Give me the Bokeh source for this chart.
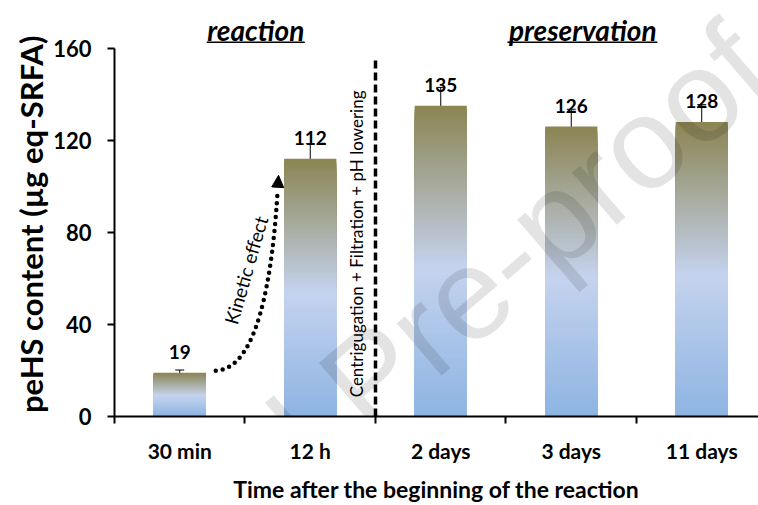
import numpy as np
from bokeh.plotting import figure
from bokeh.layouts import row
from bokeh.models import (ColumnDataSource, FixedTicker, Whisker, TeeHead, Label,
                          Arrow, NormalHead, Range1d)
from bokeh.core.properties import value
from bokeh.embed import file_html
from bokeh.resources import INLINE

# ---------------- data ----------------
categories = ["30 min", "12 h", "2 days", "3 days", "11 days"]
content = [19, 112, 135, 126, 128]
error = [1.2, 6.5, 8.0, 7.5, 7.5]
y_ticks = [0, 40, 80, 120, 160]
phases = ["reaction", "preservation"]
treatment = "Centrigugation + Filtration + pH lowering"
arrow_text = "Kinetic effect"
y_title = "peHS content (\u00b5g eq-SRFA)"
x_title = "Time after the beginning of the reaction"

FONT = "Lato"
BAR_W = 0.4
TITLE_W = 50
Y_END = 180.76

# ---------------- narrow strip holding the y-axis title ----------------
t = figure(width=TITLE_W, height=505, output_backend="svg", toolbar_location=None,
           x_range=Range1d(0, TITLE_W), y_range=Range1d(0, Y_END),
           x_axis_location=None, y_axis_location=None,
           min_border=0, min_border_left=0, min_border_right=0,
           min_border_top=0, min_border_bottom=87)
t.outline_line_color = None
t.xgrid.visible = False
t.ygrid.visible = False
t.text(x=[30], y=[83.5], text=[y_title], angle=np.pi / 2, text_align="center",
       text_baseline="middle", text_font=value(FONT), text_font_style="bold",
       text_font_size="31px", text_color="black")

# ---------------- main plot ----------------
p = figure(width=758 - TITLE_W, height=505, output_backend="svg", toolbar_location=None,
           x_range=Range1d(-0.5, 4.435), y_range=Range1d(0, Y_END),
           min_border_left=114 - TITLE_W, min_border_right=0, min_border_top=0,
           min_border_bottom=87)
p.outline_line_color = None
p.background_fill_color = "white"
p.border_fill_color = "white"
p.xgrid.visible = False
p.ygrid.visible = False

# gradient bars (stacked from top colour down)
stops = [0.0, 0.48, 1.0]
cols = np.array([[141, 180, 226], [197, 211, 238], [139, 132, 82]], dtype=float)
N = 90
L, R, B, T, C = [], [], [], [], []
for i, v in enumerate(content):
    for k in range(N - 1, -1, -1):
        f = (k + 0.5) / N
        rgb = [np.interp(f, stops, cols[:, j]) for j in range(3)]
        L.append(i - BAR_W / 2)
        R.append(i + BAR_W / 2)
        B.append(0)
        T.append(v * (k + 1) / N)
        C.append("#%02x%02x%02x" % tuple(int(round(c)) for c in rgb))
p.quad(left=L, right=R, bottom=B, top=T, fill_color=C, line_color=None)

# error bars
xs = list(range(len(categories)))
src = ColumnDataSource(dict(x=xs, y=content,
                            lo=[c - e for c, e in zip(content, error)],
                            hi=[c + e for c, e in zip(content, error)],
                            lab=[str(c) for c in content]))
w = Whisker(source=src, base="x", lower="lo", upper="hi", line_color="black", line_width=1,
            upper_head=TeeHead(size=9, line_color="black", line_width=1),
            lower_head=TeeHead(size=9, line_color="black", line_width=1))
p.add_layout(w)

# value labels
p.text(x="x", y="y", text="lab", source=src, text_align="center", text_baseline="middle",
       y_offset=-21, text_font=value(FONT), text_font_style="bold",
       text_font_size="19px", text_color="black")

# axes
p.yaxis.ticker = FixedTicker(ticks=y_ticks)
p.yaxis.bounds = (0, 160)
p.yaxis.axis_line_width = 2
p.yaxis.axis_line_color = "black"
p.yaxis.major_tick_out = 7
p.yaxis.major_tick_in = 0
p.yaxis.minor_tick_out = 0
p.yaxis.minor_tick_in = 0
p.yaxis.major_tick_line_width = 2
p.yaxis.major_label_standoff = 16
p.yaxis.major_label_text_font = FONT
p.yaxis.major_label_text_font_style = "bold"
p.yaxis.major_label_text_font_size = "22px"
p.yaxis.major_label_text_color = "black"

p.xaxis.ticker = FixedTicker(ticks=xs, minor_ticks=[i - 0.5 for i in range(len(categories) + 1)])
p.xaxis.major_label_overrides = {i: c for i, c in enumerate(categories)}
p.xaxis.axis_line_width = 2
p.xaxis.axis_line_color = "black"
p.xaxis.major_tick_out = 0
p.xaxis.major_tick_in = 0
p.xaxis.minor_tick_out = 7
p.xaxis.minor_tick_in = 0
p.xaxis.minor_tick_line_width = 2
p.xaxis.minor_tick_line_color = "black"
p.xaxis.major_label_standoff = 14
p.xaxis.major_label_text_font = FONT
p.xaxis.major_label_text_font_style = "bold"
p.xaxis.major_label_text_font_size = "21px"
p.xaxis.major_label_text_color = "black"
p.xaxis.axis_label = x_title
p.xaxis.axis_label_text_font = FONT
p.xaxis.axis_label_text_font_style = "bold"
p.xaxis.axis_label_text_font_size = "23px"
p.xaxis.axis_label_text_color = "black"
p.xaxis.axis_label_standoff = 9

# separator & annotations
p.segment(x0=[1.5], y0=[0], x1=[1.5], y1=[155.5], line_color="black", line_width=3.5,
          line_dash="8 4")
p.text(x=[1.356], y=[75.0], text=[treatment], angle=np.pi / 2, text_align="center",
       text_baseline="middle", text_font=value(FONT), text_font_size="17px", text_color="black")

# phase headers
hx = [0.583, 3.088]
hy = [167.8, 167.8]
p.text(x=hx, y=hy, text=phases, text_align="center", text_baseline="middle",
       text_font=value(FONT), text_font_style="bold italic", text_font_size="28px",
       text_color="black")
p.segment(x0=[0.207, 2.511], y0=[162.6, 162.6], x1=[0.958, 3.66], y1=[162.6, 162.6],
          line_color="black", line_width=1.5)

# kinetic effect arrow
p.quadratic(x0=[0.276], y0=[19.9], x1=[0.75], y1=[98.0], cx=[0.667], cy=[20.8],
            line_color="black", line_width=4.5, line_dash="0 7", line_cap="round")
p.add_layout(Arrow(x_start=0.748, y_start=97.0, x_end=0.757, y_end=104.8, line_alpha=0,
                   end=NormalHead(size=12, fill_color="black", line_color="black")))
p.text(x=[0.506], y=[63.6], text=[arrow_text], angle=1.288, text_align="center",
       text_baseline="middle", text_font=value(FONT),
       text_font_size="19px", text_color="black")

# watermark
p.add_layout(Label(x=4.375, y=159.1, text="Journal Pre-proof", angle=0.71,
                   text_align="right", text_baseline="alphabetic",
                   text_font="Liberation Sans", text_font_size="130px",
                   text_color="black", text_alpha=0.11))

layout = row(t, p, spacing=0)
open("out.html", "w").write(file_html(layout, INLINE))
